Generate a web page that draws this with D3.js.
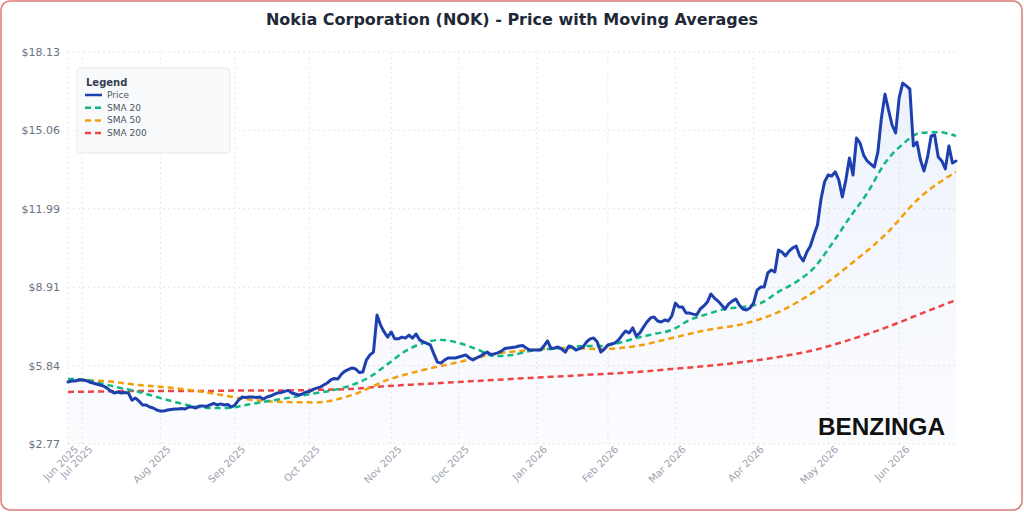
<!DOCTYPE html>
<html>
<head>
<meta charset="utf-8">
<style>
  body{margin:0;background:#fff;font-family:"DejaVu Sans",sans-serif;}
  #chart{display:block;}
</style>
<script src="https://cdn.jsdelivr.net/npm/d3@7"></script>
</head>
<body>
<svg id="chart" width="1024" height="512"></svg>
<script>
// daily closes, one per trading day from late Jun 2025 to late Jun 2026
var price = [
  5.20,5.24,5.24,5.28,5.28,5.26,5.20,5.16,5.12,5.08,
  5.04,4.96,4.85,4.77,4.81,4.77,4.79,4.77,4.49,4.57,
  4.45,4.30,4.30,4.22,4.18,4.10,4.06,4.06,4.10,4.12,
  4.14,4.14,4.16,4.14,4.22,4.22,4.18,4.26,4.26,4.24,
  4.30,4.36,4.30,4.34,4.30,4.32,4.22,4.30,4.49,4.61,
  4.59,4.61,4.61,4.59,4.61,4.53,4.61,4.65,4.71,4.77,
  4.79,4.83,4.87,4.77,4.73,4.69,4.73,4.81,4.83,4.91,
  4.96,5.00,5.08,5.16,5.28,5.34,5.32,5.51,5.63,5.69,
  5.75,5.71,5.57,5.59,6.06,6.26,6.37,7.82,7.43,7.16,
  6.96,7.16,6.89,6.89,6.96,6.92,7.04,6.92,7.08,6.85,
  6.77,6.71,6.65,6.30,5.98,5.94,6.06,6.14,6.14,6.14,
  6.18,6.22,6.26,6.14,6.06,6.14,6.20,6.30,6.37,6.28,
  6.30,6.34,6.41,6.51,6.53,6.55,6.57,6.61,6.63,6.53,
  6.45,6.45,6.45,6.45,6.61,6.81,6.51,6.53,6.57,6.49,
  6.37,6.61,6.57,6.45,6.51,6.57,6.77,6.89,6.92,6.77,
  6.37,6.49,6.65,6.69,6.73,6.85,7.04,7.20,7.12,7.32,
  7.00,7.12,7.35,7.55,7.71,7.75,7.59,7.55,7.63,7.59,
  7.79,8.29,8.14,8.14,7.90,7.90,7.86,7.83,8.06,8.18,
  8.33,8.65,8.49,8.37,8.22,8.06,8.26,8.37,8.45,8.22,
  8.06,8.02,8.10,8.29,8.80,8.92,8.92,9.47,9.59,9.51,
  10.37,10.29,10.14,10.33,10.45,10.53,10.14,9.94,10.29,10.53,
  10.96,11.35,12.37,13.04,13.31,13.27,13.43,13.12,12.45,13.12,
  13.98,13.31,14.76,14.56,14.09,13.86,13.74,13.62,14.21,15.54,
  16.48,15.86,15.27,14.96,16.33,16.91,16.80,16.68,14.45,14.60,
  13.90,13.47,14.02,14.84,14.88,14.02,13.86,13.55,14.45,13.78,
  13.86
];

// moving averages read every few trading days
var sma20Step = 5;
var sma20 = [
  5.32,5.28,5.12,4.96,4.81,4.61,4.42,4.26,4.18,4.18,
  4.30,4.42,4.53,4.65,4.77,4.89,5.08,5.40,5.90,6.41,
  6.73,6.85,6.73,6.49,6.22,6.26,6.41,6.49,6.53,6.61,
  6.61,6.73,6.92,7.08,7.24,7.63,7.86,8.06,8.14,8.29,
  8.73,9.12,9.67,10.60,11.63,12.60,13.78,14.52,14.96,14.99,
  14.84
];
var sma50Step = 10;
var sma50 = [
  5.28,5.24,5.08,4.96,4.77,4.53,4.42,4.40,4.69,5.28,
  5.67,5.98,6.30,6.45,6.53,6.49,6.61,6.92,7.24,7.47,
  7.94,8.73,9.78,10.96,12.45,13.43
];
var sma200Step = 10;
var sma200 = [
  4.81,4.83,4.85,4.85,4.85,4.87,4.87,4.89,4.93,5.04,
  5.12,5.20,5.28,5.36,5.43,5.51,5.59,5.71,5.83,5.98,
  6.18,6.45,6.85,7.32,7.87,8.41
];

var tickLabels = ["Jun 2025","Jul 2025","Aug 2025","Sep 2025","Oct 2025","Nov 2025","Dec 2025",
                  "Jan 2026","Feb 2026","Mar 2026","Apr 2026","May 2026","Jun 2026"];
var tickIndex = [0,4,26,47,68,91,110,132,152,171,193,214,234];
var yTicks = [2.77,5.84,8.91,11.99,15.06,18.13];

var seriesNames = ["Price","SMA 20","SMA 50","SMA 200"];
var seriesColors = ["#1e40af","#10b981","#f59e0b","#ef4444"];

var svg = d3.select("#chart");
var plotL = 68, plotR = 956, plotT = 52, plotB = 444;

var x = d3.scaleLinear().domain([0, price.length - 1]).range([plotL, plotR]);
var y = d3.scaleLinear().domain([2.77, 18.13]).range([plotB, plotT]);

// card
svg.append("rect").attr("x",1).attr("y",1).attr("width",1021).attr("height",509)
  .attr("rx",9).attr("fill","#fff").attr("stroke","#dc7a78").attr("stroke-width",1.5);

svg.append("text").attr("x",512).attr("y",25).attr("text-anchor","middle")
  .attr("font-size",16).attr("font-weight","bold").attr("fill","#1f2937")
  .text("Nokia Corporation (NOK) - Price with Moving Averages");

// gradient for area
var defs = svg.append("defs");
var grad = defs.append("linearGradient").attr("id","fillGrad")
  .attr("x1",0).attr("y1",0).attr("x2",0).attr("y2",1);
grad.append("stop").attr("offset","0%").attr("stop-color","#3b6fd8").attr("stop-opacity",0.09);
grad.append("stop").attr("offset","100%").attr("stop-color","#3b6fd8").attr("stop-opacity",0.02);

// grid
var grid = svg.append("g");
grid.selectAll(".hg").data(yTicks).enter().append("line")
  .attr("x1",plotL).attr("x2",plotR).attr("y1",d=>y(d)).attr("y2",d=>y(d))
  .attr("stroke","#e5e7eb").attr("stroke-dasharray","2,3");
grid.selectAll(".vg").data(tickIndex).enter().append("line")
  .attr("x1",d=>x(d)).attr("x2",d=>x(d)).attr("y1",plotT).attr("y2",plotB)
  .attr("stroke","#e5e7eb").attr("stroke-dasharray","2,3");

// y labels
svg.append("g").selectAll("text").data(yTicks).enter().append("text")
  .attr("x",60).attr("y",d=>y(d)+4).attr("text-anchor","end")
  .attr("font-size",11).attr("fill","#6b7280")
  .text(d=>"$"+d.toFixed(2));

// x labels
svg.append("g").selectAll("text").data(tickIndex).enter().append("text")
  .attr("transform",d=>"translate("+(x(d)+11)+","+(plotB+6)+") rotate(-45)")
  .attr("text-anchor","end").attr("font-size",10).attr("fill","#9ca3af")
  .text((d,i)=>tickLabels[i]);

// area + lines
var area = d3.area().x((d,i)=>x(i)).y0(plotB).y1(d=>y(d));
svg.append("path").datum(price).attr("d",area).attr("fill","url(#fillGrad)");

function smaLine(step){
  return d3.line().x((d,i)=>x(i*step)).y(d=>y(d)).curve(d3.curveMonotoneX);
}
var smaData = [[sma200,sma200Step,3],[sma50,sma50Step,2],[sma20,sma20Step,1]];
smaData.forEach(function(s){
  svg.append("path").datum(s[0]).attr("d",smaLine(s[1]))
    .attr("fill","none").attr("stroke",seriesColors[s[2]])
    .attr("stroke-width",2.5).attr("stroke-dasharray","6,4");
});

var line = d3.line().x((d,i)=>x(i)).y(d=>y(d));
svg.append("path").datum(price).attr("d",line)
  .attr("fill","none").attr("stroke",seriesColors[0]).attr("stroke-width",3)
  .attr("stroke-linejoin","round").attr("stroke-linecap","round");

// legend
var lg = svg.append("g").attr("transform","translate(77,68)");
lg.append("rect").attr("width",153).attr("height",85).attr("rx",4)
  .attr("fill","#f9fafb").attr("fill-opacity",0.95).attr("stroke","#e5e7eb");
lg.append("text").attr("x",9).attr("y",18).attr("font-size",10).attr("font-weight","bold")
  .attr("fill","#374151").text("Legend");
seriesNames.forEach(function(n,i){
  var yy = 27 + i*12.7;
  lg.append("line").attr("x1",8).attr("x2",25).attr("y1",yy).attr("y2",yy)
    .attr("stroke",seriesColors[i]).attr("stroke-width",2.5)
    .attr("stroke-dasharray", i==0 ? null : "6,4");
  lg.append("text").attr("x",30).attr("y",yy+3).attr("font-size",9)
    .attr("fill","#4b5563").text(n);
});

// logo
svg.append("text").attr("x",818).attr("y",435).attr("font-family","Liberation Sans, Arial, sans-serif")
  .attr("font-size",24).attr("font-weight","bold").attr("fill","#111")
  .attr("textLength",127).attr("lengthAdjust","spacingAndGlyphs").text("BENZINGA");
</script>
</body>
</html>
